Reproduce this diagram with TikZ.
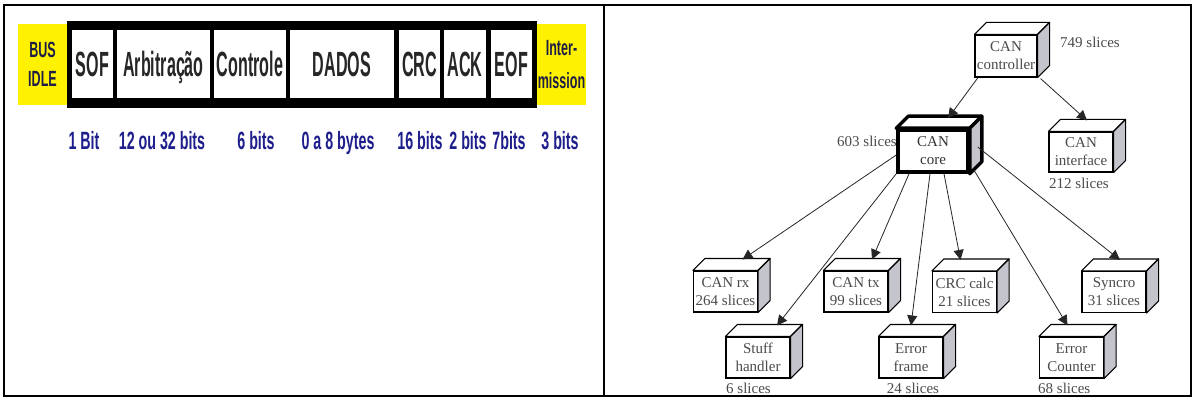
\documentclass[tikz,border=0pt]{standalone}
\usepackage{fontspec}
\setmainfont{Liberation Serif}
\newfontfamily\condfont[FakeStretch=0.46]{Liberation Sans}
\newfontfamily\lblfont[FakeStretch=0.57]{Liberation Sans}
\newfontfamily\yfont[FakeStretch=0.57]{Liberation Sans}
\usetikzlibrary{arrows.meta,calc}
\pgfdeclarelayer{back}
\pgfdeclarelayer{bg}
\pgfsetlayers{back,bg,main}
\definecolor{navy}{RGB}{30,30,140}
\definecolor{panel}{RGB}{252,248,252}
\definecolor{sidegray}{RGB}{196,196,204}
\definecolor{shadowc}{RGB}{205,205,210}
\definecolor{boxtext}{RGB}{75,75,75}
\definecolor{ytext}{RGB}{30,30,70}
\begin{document}
\begin{tikzpicture}[x=1pt,y=-1pt,
  cell/.style={fill=white, inner sep=0pt, minimum height=68pt, text height=25pt, text depth=0pt,
    font=\condfont\bfseries\fontsize{35}{37}\selectfont, text=black!85},
  ybox/.style={fill=yellow, inner sep=0pt, minimum width=49pt, minimum height=81pt, align=center,
    text=ytext},
  lbl/.style={anchor=base, inner sep=0pt, text=navy, font=\lblfont\bfseries\fontsize{25}{27}\selectfont},
  cube/.style={draw=black, line width=1.1pt, fill=white, inner sep=0pt, minimum width=64pt,
    minimum height=41pt, align=center, text=boxtext, font=\fontsize{15}{18}\selectfont},
  slc/.style={inner sep=0pt, text=boxtext, font=\fontsize{15}{18}\selectfont},
  topface/.style={draw=black, fill=white, line join=round},
  sideface/.style={draw=black, fill=sidegray, line join=round},
  arr/.style={draw=black!85, line width=0.8pt, -{Triangle[length=10pt,width=10pt]}}]
\useasboundingbox (0,0) rectangle (1194,398);
\fill[white] (0,0) rectangle (1194,398);
% panel backgrounds
\begin{pgfonlayer}{back}
\fill[panel] (13,13) rectangle (596,157);
\fill[panel] (612,33) -- (876,33) -- (876,12) -- (1186,12) -- (1186,394) -- (612,394) -- cycle;
\end{pgfonlayer}
% outer frame
\draw[line width=2pt] (4,5) rectangle (1191,396);
\draw[line width=2pt] (604,5) -- (604,396);

% ---- left: CAN frame ----
\node[ybox, font=\yfont\bfseries\fontsize{22}{29}\selectfont] (idle) at (42.5,64.5) {BUS\\IDLE};
\node[ybox, font=\yfont\bfseries\fontsize{22}{33}\selectfont] (inter) at (561.5,64.5) {Inter-\\mission};
\fill[black] (67,21) rectangle (537,108);
\node[cell, minimum width=41pt] (sof) at (92.5,64) {SOF};
\node[cell, minimum width=93pt] (arb) at (163.5,64) {Arbitração};
\node[cell, minimum width=72pt] (ctl) at (250,64) {Controle};
\node[cell, minimum width=104pt] (dad) at (342,64) {DADOS};
\node[cell, minimum width=41pt] (crcf) at (419.5,64) {CRC};
\node[cell, minimum width=42pt] (ack) at (465,64) {ACK};
\node[cell, minimum width=41pt] (eof) at (511.5,64) {EOF};

\node[lbl] (l1) at (84,150) {1 Bit};
\node[lbl] (l2) at (162,150) {12 ou 32 bits};
\node[lbl] (l3) at (256,150) {6 bits};
\node[lbl] (l4) at (338,150) {0 a 8 bytes};
\node[lbl] (l5) at (420,150) {16 bits};
\node[lbl] (l6) at (468,150) {2 bits};
\node[lbl] (l7) at (509,150) {7bits};
\node[lbl] (l8) at (560,150) {3 bits};

% ---- right: hierarchy ----
\node[cube, minimum width=62pt, minimum height=42pt] (ctrl) at (1006,56) {CAN\\controller};
\node[cube, line width=3.5pt, minimum width=70pt, minimum height=42pt, text=black!80] (core) at (933,151) {CAN\\core};
\node[cube, minimum height=40pt] (iface) at (1081,152) {CAN\\interface};
\node[cube] (rx) at (725.5,291.5) {CAN rx\\264 slices};
\node[cube] (tx) at (856,291.5) {CAN tx\\99 slices};
\node[cube] (crc) at (964.5,292) {CRC calc\\21 slices};
\node[cube] (sync) at (1114,292) {Syncro\\31 slices};
\node[cube] (stuff) at (758,357.5) {Stuff\\handler};
\node[cube] (eframe) at (911,357.5) {Error\\frame};
\node[cube] (ecount) at (1071.5,357.5) {Error\\Counter};

\foreach \n/\w in {ctrl/1.1pt,core/3.5pt,iface/1.1pt,rx/1.1pt,tx/1.1pt,crc/1.1pt,sync/1.1pt,stuff/1.1pt,eframe/1.1pt,ecount/1.1pt}{
  \begin{pgfonlayer}{bg}
  \fill[shadowc] ([shift={(3pt,-3pt)}]\n.south west) -- ([shift={(3pt,-3pt)}]\n.north west)
    -- ([shift={(15pt,9pt)}]\n.north west) -- ([shift={(15pt,9pt)}]\n.north east)
    -- ([shift={(15pt,9pt)}]\n.south east) -- ([shift={(3pt,-3pt)}]\n.south east) -- cycle;
  \end{pgfonlayer}
  \filldraw[topface, line width=\w] (\n.north west) -- ([shift={(12pt,12pt)}]\n.north west)
    -- ([shift={(12pt,12pt)}]\n.north east) -- (\n.north east) -- cycle;
  \filldraw[sideface, line width=\w] (\n.north east) -- ([shift={(12pt,12pt)}]\n.north east)
    -- ([shift={(12pt,12pt)}]\n.south east) -- (\n.south east) -- cycle;
}

\node[slc, anchor=west] (s749) at (1060,42) {749 slices};
\node[slc, anchor=east] (s603) at (897,141) {603 slices};
\node[slc] (s212) at (1079,183) {212 slices};
\node[slc, anchor=west] (s6) at (726,388) {6 slices};
\node[slc] (s24) at (913,388) {24 slices};
\node[slc, anchor=west] (s68) at (1038,388) {68 slices};

\draw[arr] ([xshift=-28pt]ctrl.south) -- ([xshift=15pt,yshift=10pt]core.north);
\draw[arr] ([xshift=3pt,yshift=-1pt]ctrl.south east) -- ([xshift=6pt,yshift=11pt]iface.north);
\draw[arr] ([yshift=-4pt]core.west) -- ([xshift=17pt,yshift=11pt]rx.north);
\draw[arr] (core.south west) -- ([xshift=19pt,yshift=11pt]stuff.north);
\draw[arr] ([xshift=-24pt]core.south) -- ([xshift=16pt,yshift=11pt]tx.north);
\draw[arr] ([xshift=-3pt]core.south) -- ([xshift=0pt,yshift=11pt]eframe.north);
\draw[arr] ([xshift=11pt]core.south) -- ([xshift=-4pt,yshift=11pt]crc.north);
\draw[arr] ([xshift=4pt,yshift=4pt]core.south east) -- ([xshift=-4pt,yshift=11pt]ecount.north);
\draw[arr] ([xshift=8pt,yshift=4pt]core.east) -- ([xshift=6pt,yshift=11pt]sync.north);
\end{tikzpicture}
\end{document}
